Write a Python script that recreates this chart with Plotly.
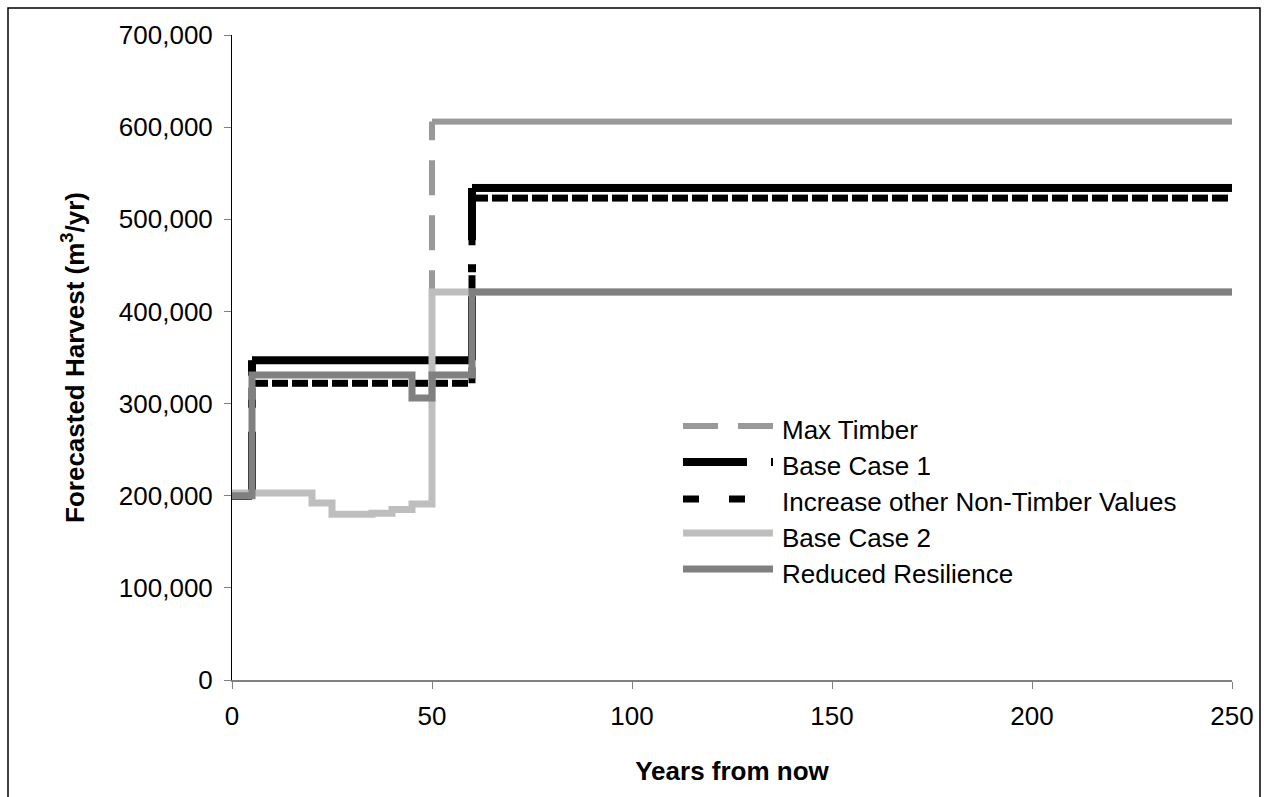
import numpy as np
import plotly.graph_objects as go

# ---------------------------------------------------------------------------
# Forecast data: 5-year planning periods, harvest level in m3/yr.
# Each series is given as the year a harvest level starts and that level.
# ---------------------------------------------------------------------------
YEAR_END = 250
PERIOD = 5

series_names = [
    "Max Timber",
    "Base Case 1",
    "Increase other Non-Timber Values",
    "Base Case 2",
    "Reduced Resilience",
]

max_timber_start = [0, 5, 50]
max_timber_harvest = [200000, 347000, 606000]

base_case1_start = [0, 5, 60]
base_case1_harvest = [200000, 347000, 534000]

non_timber_start = [0, 5, 60]
non_timber_harvest = [200000, 322000, 523000]

base_case2_start = [0, 20, 25, 35, 40, 45, 50]
base_case2_harvest = [203000, 192000, 180000, 181000, 185000, 191000, 421000]

resilience_start = [0, 5, 45, 50, 60]
resilience_harvest = [200000, 331000, 306000, 331000, 421000]

y_tick_values = [0, 100000, 200000, 300000, 400000, 500000, 600000, 700000]
x_tick_values = [0, 50, 100, 150, 200, 250]

# ---------------------------------------------------------------------------
# Line styles (dashed series restart their dash pattern on every segment)
# ---------------------------------------------------------------------------
styles = {
    "Max Timber": dict(color="#999999", width=6, dash="35px,20px", segmented=True),
    "Base Case 1": dict(color="#000000", width=8, dash="64px,24px,8px,24px", segmented=True),
    "Increase other Non-Timber Values": dict(color="#000000", width=7, dash="16px,30px", segmented=True),
    "Base Case 2": dict(color="#BEBEBE", width=7, dash="solid", segmented=False),
    "Reduced Resilience": dict(color="#808080", width=7, dash="solid", segmented=False),
}

series_data = {
    "Max Timber": (max_timber_start, max_timber_harvest),
    "Base Case 1": (base_case1_start, base_case1_harvest),
    "Increase other Non-Timber Values": (non_timber_start, non_timber_harvest),
    "Base Case 2": (base_case2_start, base_case2_harvest),
    "Reduced Resilience": (resilience_start, resilience_harvest),
}

periods = np.arange(0, YEAR_END, PERIOD)


def per_period(starts, levels):
    idx = np.searchsorted(np.asarray(starts), periods, side="right") - 1
    return [float(v) for v in np.asarray(levels, dtype=float)[idx]]


def step_path(vals):
    xs = [float(p) for p in periods] + [float(YEAR_END)]
    ys = list(vals) + [vals[-1]]
    return xs, ys


def segmented_path(vals):
    xs, ys = [], []
    for i, p in enumerate(periods):
        p = float(p)
        v = vals[i]
        xs += [p, p + PERIOD, None]
        ys += [v, v, None]
        if i + 1 < len(vals) and vals[i + 1] != v:
            xs += [p + PERIOD, p + PERIOD, None]
            ys += [v, vals[i + 1], None]
    return xs, ys


fig = go.Figure()

for name in series_names:
    st = styles[name]
    vals = per_period(*series_data[name])
    if st["segmented"]:
        xs, ys = segmented_path(vals)
        shape = "linear"
    else:
        xs, ys = step_path(vals)
        shape = "hv"
    fig.add_trace(
        go.Scatter(
            x=xs,
            y=ys,
            mode="lines",
            name=name,
            connectgaps=False,
            line=dict(color=st["color"], width=st["width"], dash=st["dash"], shape=shape),
            showlegend=False,
            hoverinfo="skip",
        )
    )

# ---------------------------------------------------------------------------
# Layout
# ---------------------------------------------------------------------------
L, R, T, B = 232, 32, 35, 117
W, H = 1264, 797
PW, PH = W - L - R, H - T - B


def px_x(px):
    return (px - L) / PW


def px_y(py):
    return (H - B - py) / PH


FONT = "Liberation Sans, Arial, sans-serif"
FS = 26

fig.update_layout(
    template="none",
    width=W,
    height=H,
    margin=dict(l=L, r=R, t=T, b=B, pad=0),
    paper_bgcolor="white",
    plot_bgcolor="white",
    font=dict(family=FONT, size=FS, color="black"),
    showlegend=False,
)

fig.update_xaxes(
    range=[0, YEAR_END],
    tickvals=x_tick_values,
    showgrid=False,
    zeroline=False,
    showline=True,
    linecolor="#808080",
    linewidth=2,
    ticks="outside",
    ticklen=7,
    tickcolor="#808080",
    tickwidth=1,
    ticklabelstandoff=5,
    tickfont=dict(size=FS),
    title=dict(text="<b>Years from now</b>", font=dict(size=FS), standoff=32),
)

fig.update_yaxes(
    range=[0, 700000],
    tickvals=y_tick_values,
    tickformat=",d",
    showgrid=False,
    zeroline=False,
    showline=True,
    linecolor="black",
    linewidth=1,
    ticks="outside",
    ticklen=7,
    tickcolor="#808080",
    tickwidth=1,
    ticklabelstandoff=6,
    tickfont=dict(size=FS),
    title=dict(text="<b>Forecasted Harvest (m<sup>3</sup>/yr)</b>", font=dict(size=FS), standoff=26),
)

# Legend drawn inside the plot: sample line + label for every series
legend_text_x = 780
sample_x0, sample_x1 = 683, 773
row_y0, row_step = 430, 36
sample_offsets = [-4, -4, -3, -5, -5]
for i, name in enumerate(series_names):
    st = styles[name]
    ty = row_y0 + i * row_step
    fig.add_shape(
        type="line",
        xref="paper",
        yref="paper",
        x0=px_x(sample_x0),
        x1=px_x(sample_x1),
        y0=px_y(ty + sample_offsets[i]),
        y1=px_y(ty + sample_offsets[i]),
        line=dict(color=st["color"], width=st["width"], dash=st["dash"]),
    )
    fig.add_annotation(
        xref="paper",
        yref="paper",
        x=px_x(legend_text_x),
        y=px_y(ty),
        xanchor="left",
        yanchor="middle",
        text=name,
        showarrow=False,
        font=dict(size=FS, color="black"),
    )

# Chart frame (runs past the bottom edge of the page)
fig.add_shape(
    type="rect",
    xref="paper",
    yref="paper",
    x0=px_x(8),
    x1=px_x(1260),
    y0=px_y(805),
    y1=px_y(8),
    line=dict(color="black", width=1.5),
    layer="below",
)

fig.write_html("out.html")
